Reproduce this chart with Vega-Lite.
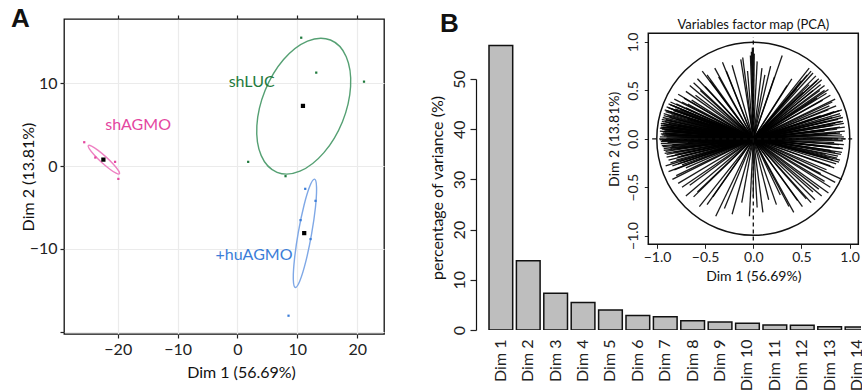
{
 "$schema": "https://vega.github.io/schema/vega-lite/v6.json",
 "padding": {"left": 10, "top": 5, "right": 0, "bottom": 0},
 "background": "white",
 "config": {
  "font": "Lato",
  "view": {"stroke": null},
  "axis": {"labelFont": "Lato", "titleFont": "Lato", "labelColor": "#222", "titleColor": "#111", "titleFontWeight": "normal", "domainColor": "#111", "tickColor": "#222"},
  "concat": {"spacing": 44}
 },
 "datasets": {
  "ind": [
   {"g": "shAGMO", "d1": -25.6, "d2": 2.88}, {"g": "shAGMO", "d1": -23.75, "d2": 1.03}, {"g": "shAGMO", "d1": -20.45, "d2": 0.51}, {"g": "shAGMO", "d1": -19.9, "d2": -1.55},
   {"g": "shLUC", "d1": 10.65, "d2": 15.51}, {"g": "shLUC", "d1": 13.16, "d2": 11.29}, {"g": "shLUC", "d1": 21.14, "d2": 10.2}, {"g": "shLUC", "d1": 1.79, "d2": 0.51}, {"g": "shLUC", "d1": 8.03, "d2": -1.22},
   {"g": "+huAGMO", "d1": 11.32, "d2": -2.75}, {"g": "+huAGMO", "d1": 13.04, "d2": -4.2}, {"g": "+huAGMO", "d1": 10.54, "d2": -6.53}, {"g": "+huAGMO", "d1": 12.21, "d2": -8.82}, {"g": "+huAGMO", "d1": 8.53, "d2": -18.08}
  ],
  "cent": [
   {"g": "shAGMO", "d1": -22.4, "d2": 0.78}, {"g": "shLUC", "d1": 10.94, "d2": 7.27}, {"g": "+huAGMO", "d1": 11.15, "d2": -8.1}
  ],
  "lab": [
   {"g": "shAGMO", "label": "shAGMO", "d1": -16.6, "d2": 4.97}, {"g": "shLUC", "label": "shLUC", "d1": 2.37, "d2": 10.2}, {"g": "+huAGMO", "label": "+huAGMO", "d1": 2.76, "d2": -10.72}
  ],
  "ell": [
   {"g": "shLUC", "i": 0, "d1": 15.54, "d2": 15.23}, {"g": "shLUC", "i": 1, "d1": 18.17, "d2": 13.22}, {"g": "shLUC", "i": 2, "d1": 18.9, "d2": 9.61}, {"g": "shLUC", "i": 3, "d1": 17.54, "d2": 5.36}, {"g": "shLUC", "i": 4, "d1": 14.44, "d2": 1.62}, {"g": "shLUC", "i": 5, "d1": 10.44, "d2": -0.62}, {"g": "shLUC", "i": 6, "d1": 6.61, "d2": -0.75}, {"g": "shLUC", "i": 7, "d1": 3.97, "d2": 1.26}, {"g": "shLUC", "i": 8, "d1": 3.24, "d2": 4.88}, {"g": "shLUC", "i": 9, "d1": 4.61, "d2": 9.12}, {"g": "shLUC", "i": 10, "d1": 7.7, "d2": 12.87}, {"g": "shLUC", "i": 11, "d1": 11.7, "d2": 15.1},
   {"g": "+huAGMO", "i": 0, "d1": 12.88, "d2": -1.58}, {"g": "+huAGMO", "i": 1, "d1": 13.21, "d2": -2.53}, {"g": "+huAGMO", "i": 2, "d1": 13.03, "d2": -4.97}, {"g": "+huAGMO", "i": 3, "d1": 12.37, "d2": -8.26}, {"g": "+huAGMO", "i": 4, "d1": 11.42, "d2": -11.52}, {"g": "+huAGMO", "i": 5, "d1": 10.43, "d2": -13.86}, {"g": "+huAGMO", "i": 6, "d1": 9.67, "d2": -14.67}, {"g": "+huAGMO", "i": 7, "d1": 9.33, "d2": -13.72}, {"g": "+huAGMO", "i": 8, "d1": 9.52, "d2": -11.27}, {"g": "+huAGMO", "i": 9, "d1": 10.17, "d2": -7.98}, {"g": "+huAGMO", "i": 10, "d1": 11.12, "d2": -4.73}, {"g": "+huAGMO", "i": 11, "d1": 12.11, "d2": -2.39},
   {"g": "shAGMO", "i": 0, "d1": -19.73, "d2": -0.94}, {"g": "shAGMO", "i": 1, "d1": -20.28, "d2": -0.86}, {"g": "shAGMO", "i": 2, "d1": -21.37, "d2": -0.35}, {"g": "shAGMO", "i": 3, "d1": -22.72, "d2": 0.46}, {"g": "shAGMO", "i": 4, "d1": -23.96, "d2": 1.36}, {"g": "shAGMO", "i": 5, "d1": -24.77, "d2": 2.1}, {"g": "shAGMO", "i": 6, "d1": -24.92, "d2": 2.48}, {"g": "shAGMO", "i": 7, "d1": -24.37, "d2": 2.41}, {"g": "shAGMO", "i": 8, "d1": -23.28, "d2": 1.9}, {"g": "shAGMO", "i": 9, "d1": -21.93, "d2": 1.08}, {"g": "shAGMO", "i": 10, "d1": -20.69, "d2": 0.19}, {"g": "shAGMO", "i": 11, "d1": -19.88, "d2": -0.55}
  ],
  "bars": [
   {"dim": "Dim 1", "pct": 56.69}, {"dim": "Dim 2", "pct": 13.81}, {"dim": "Dim 3", "pct": 7.3}, {"dim": "Dim 4", "pct": 5.5}, {"dim": "Dim 5", "pct": 4.0}, {"dim": "Dim 6", "pct": 2.9}, {"dim": "Dim 7", "pct": 2.65}, {"dim": "Dim 8", "pct": 1.85}, {"dim": "Dim 9", "pct": 1.6}, {"dim": "Dim 10", "pct": 1.33}, {"dim": "Dim 11", "pct": 1.0}, {"dim": "Dim 12", "pct": 0.93}, {"dim": "Dim 13", "pct": 0.66}, {"dim": "Dim 14", "pct": 0.6}
  ],
  "vars": [
   {"d1": -0.96, "d2": 0.12}, {"d1": -0.95, "d2": 0.18}, {"d1": -0.94, "d2": 0.22}, {"d1": -0.93, "d2": 0.26}, {"d1": -0.92, "d2": 0.3}, {"d1": -0.9, "d2": 0.33}, {"d1": -0.88, "d2": 0.36}, {"d1": -0.86, "d2": 0.38}, {"d1": -0.97, "d2": 0.08}, {"d1": -0.96, "d2": 0.05},
   {"d1": -0.97, "d2": 0.02}, {"d1": -0.95, "d2": -0.02}, {"d1": -0.96, "d2": -0.05}, {"d1": -0.94, "d2": -0.08}, {"d1": -0.93, "d2": -0.12}, {"d1": -0.92, "d2": -0.15}, {"d1": -0.9, "d2": -0.19}, {"d1": -0.88, "d2": -0.22}, {"d1": -0.86, "d2": -0.25}, {"d1": -0.84, "d2": -0.28},
   {"d1": -0.82, "d2": -0.32}, {"d1": -0.93, "d2": 0.14}, {"d1": -0.91, "d2": 0.1}, {"d1": -0.92, "d2": 0.06}, {"d1": -0.9, "d2": 0.02}, {"d1": -0.89, "d2": -0.04}, {"d1": -0.91, "d2": 0.2}, {"d1": -0.89, "d2": 0.24}, {"d1": -0.87, "d2": 0.28}, {"d1": -0.85, "d2": 0.31},
   {"d1": -0.88, "d2": 0.16}, {"d1": -0.86, "d2": 0.12}, {"d1": -0.85, "d2": 0.08}, {"d1": -0.87, "d2": 0.04}, {"d1": -0.84, "d2": -0.06}, {"d1": -0.86, "d2": -0.1}, {"d1": -0.83, "d2": -0.14}, {"d1": -0.85, "d2": -0.18}, {"d1": -0.8, "d2": -0.22}, {"d1": -0.78, "d2": -0.26},
   {"d1": -0.94, "d2": 0.16}, {"d1": -0.95, "d2": 0.1}, {"d1": -0.93, "d2": 0.03}, {"d1": -0.92, "d2": -0.01}, {"d1": -0.91, "d2": 0.28}, {"d1": -0.83, "d2": 0.34}, {"d1": -0.8, "d2": 0.36}, {"d1": -0.82, "d2": 0.26}, {"d1": -0.8, "d2": 0.2}, {"d1": -0.78, "d2": 0.14},
   {"d1": -0.76, "d2": 0.3}, {"d1": -0.74, "d2": 0.38}, {"d1": -0.77, "d2": -0.1}, {"d1": -0.75, "d2": -0.18}, {"d1": -0.72, "d2": -0.24}, {"d1": -0.7, "d2": -0.3}, {"d1": -0.96, "d2": 0.14}, {"d1": -0.94, "d2": 0.0}, {"d1": -0.9, "d2": 0.12}, {"d1": -0.88, "d2": 0.08},
   {"d1": -0.97, "d2": 0.11}, {"d1": -0.96, "d2": 0.16}, {"d1": -0.95, "d2": 0.2}, {"d1": -0.93, "d2": 0.24}, {"d1": -0.97, "d2": -0.01}, {"d1": -0.96, "d2": -0.03}, {"d1": -0.95, "d2": -0.07}, {"d1": -0.93, "d2": -0.1}, {"d1": -0.91, "d2": -0.13}, {"d1": -0.9, "d2": -0.16},
   {"d1": -0.94, "d2": 0.06}, {"d1": -0.92, "d2": 0.09}, {"d1": -0.9, "d2": 0.15}, {"d1": -0.89, "d2": 0.19}, {"d1": -0.87, "d2": 0.22}, {"d1": -0.85, "d2": 0.25}, {"d1": -0.83, "d2": 0.29}, {"d1": -0.81, "d2": 0.31}, {"d1": -0.95, "d2": 0.04}, {"d1": -0.93, "d2": 0.08},
   {"d1": -0.91, "d2": 0.04}, {"d1": -0.89, "d2": 0.0}, {"d1": -0.87, "d2": -0.03}, {"d1": -0.85, "d2": -0.08}, {"d1": -0.83, "d2": -0.11}, {"d1": -0.81, "d2": -0.16}, {"d1": -0.79, "d2": -0.19}, {"d1": -0.76, "d2": -0.23}, {"d1": -0.74, "d2": -0.27}, {"d1": -0.72, "d2": 0.26},
   {"d1": -0.7, "d2": 0.32}, {"d1": -0.68, "d2": 0.2}, {"d1": -0.66, "d2": 0.12}, {"d1": -0.68, "d2": -0.04}, {"d1": -0.7, "d2": -0.14}, {"d1": -0.9, "d2": 0.29}, {"d1": -0.88, "d2": 0.32}, {"d1": -0.86, "d2": 0.35}, {"d1": -0.92, "d2": 0.18}, {"d1": -0.94, "d2": 0.12},
   {"d1": -0.82, "d2": 0.41}, {"d1": -0.78, "d2": 0.46}, {"d1": -0.7, "d2": 0.49}, {"d1": -0.66, "d2": 0.55}, {"d1": -0.62, "d2": 0.58}, {"d1": -0.53, "d2": 0.7}, {"d1": -0.48, "d2": 0.66}, {"d1": -0.45, "d2": 0.6}, {"d1": -0.4, "d2": 0.73}, {"d1": -0.32, "d2": 0.79},
   {"d1": -0.28, "d2": 0.7}, {"d1": -0.22, "d2": 0.76}, {"d1": -0.6, "d2": 0.45}, {"d1": -0.55, "d2": 0.5}, {"d1": -0.72, "d2": 0.42}, {"d1": -0.68, "d2": 0.36}, {"d1": -0.58, "d2": 0.62}, {"d1": -0.36, "d2": 0.64}, {"d1": -0.5, "d2": 0.54}, {"d1": -0.64, "d2": 0.4},
   {"d1": -0.01, "d2": 0.94}, {"d1": 0.0, "d2": 0.92}, {"d1": -0.02, "d2": 0.9}, {"d1": 0.01, "d2": 0.88}, {"d1": -0.03, "d2": 0.86}, {"d1": -0.13, "d2": 0.82}, {"d1": -0.11, "d2": 0.84}, {"d1": 0.09, "d2": 0.73}, {"d1": 0.18, "d2": 0.75}, {"d1": 0.3, "d2": 0.86},
   {"d1": 0.12, "d2": 0.66}, {"d1": -0.06, "d2": 0.7}, {"d1": 0.04, "d2": 0.8}, {"d1": 0.22, "d2": 0.64},
   {"d1": 0.58, "d2": 0.73}, {"d1": 0.6, "d2": 0.7}, {"d1": 0.62, "d2": 0.68}, {"d1": 0.56, "d2": 0.66}, {"d1": 0.65, "d2": 0.65}, {"d1": 0.68, "d2": 0.62}, {"d1": 0.71, "d2": 0.61}, {"d1": 0.7, "d2": 0.56}, {"d1": 0.74, "d2": 0.55}, {"d1": 0.78, "d2": 0.51},
   {"d1": 0.76, "d2": 0.47}, {"d1": 0.8, "d2": 0.45}, {"d1": 0.85, "d2": 0.41}, {"d1": 0.82, "d2": 0.38}, {"d1": 0.5, "d2": 0.6}, {"d1": 0.45, "d2": 0.52}, {"d1": 0.52, "d2": 0.48}, {"d1": 0.62, "d2": 0.5}, {"d1": 0.4, "d2": 0.62}, {"d1": 0.35, "d2": 0.55},
   {"d1": 0.66, "d2": 0.42}, {"d1": 0.72, "d2": 0.4}, {"d1": 0.66, "d2": 0.6}, {"d1": 0.74, "d2": 0.5}, {"d1": 0.58, "d2": 0.56}, {"d1": 0.69, "d2": 0.5},
   {"d1": 0.92, "d2": 0.3}, {"d1": 0.9, "d2": 0.26}, {"d1": 0.93, "d2": 0.22}, {"d1": 0.88, "d2": 0.2}, {"d1": 0.94, "d2": 0.16}, {"d1": 0.9, "d2": 0.12}, {"d1": 0.95, "d2": 0.08}, {"d1": 0.92, "d2": 0.04}, {"d1": 0.96, "d2": 0.0}, {"d1": 0.93, "d2": -0.02},
   {"d1": 0.94, "d2": -0.06}, {"d1": 0.9, "d2": -0.1}, {"d1": 0.92, "d2": -0.14}, {"d1": 0.88, "d2": -0.18}, {"d1": 0.9, "d2": -0.22}, {"d1": 0.86, "d2": -0.26}, {"d1": 0.84, "d2": -0.3}, {"d1": 0.86, "d2": 0.34}, {"d1": 0.84, "d2": 0.28}, {"d1": 0.82, "d2": 0.22},
   {"d1": 0.85, "d2": 0.16}, {"d1": 0.8, "d2": 0.1}, {"d1": 0.86, "d2": 0.06}, {"d1": 0.82, "d2": 0.0}, {"d1": 0.84, "d2": -0.04}, {"d1": 0.8, "d2": -0.12}, {"d1": 0.78, "d2": -0.2}, {"d1": 0.76, "d2": 0.18}, {"d1": 0.74, "d2": 0.08}, {"d1": 0.78, "d2": 0.3},
   {"d1": 0.72, "d2": -0.08}, {"d1": 0.75, "d2": -0.16}, {"d1": 0.88, "d2": 0.0}, {"d1": 0.91, "d2": 0.18}, {"d1": 0.89, "d2": -0.06}, {"d1": 0.7, "d2": 0.24},
   {"d1": 0.95, "d2": 0.12}, {"d1": 0.93, "d2": 0.18}, {"d1": 0.91, "d2": 0.24}, {"d1": 0.89, "d2": 0.29}, {"d1": 0.94, "d2": 0.02}, {"d1": 0.93, "d2": -0.1}, {"d1": 0.91, "d2": -0.16}, {"d1": 0.89, "d2": -0.24}, {"d1": 0.87, "d2": 0.1}, {"d1": 0.83, "d2": 0.14},
   {"d1": 0.81, "d2": 0.26}, {"d1": 0.79, "d2": 0.34}, {"d1": 0.77, "d2": 0.04}, {"d1": 0.81, "d2": -0.08}, {"d1": 0.85, "d2": -0.14}, {"d1": 0.83, "d2": -0.22}, {"d1": 0.8, "d2": -0.28}, {"d1": 0.76, "d2": -0.32}, {"d1": 0.87, "d2": -0.2}, {"d1": 0.9, "d2": 0.06},
   {"d1": 0.92, "d2": -0.42}, {"d1": 0.85, "d2": -0.45}, {"d1": 0.8, "d2": -0.5}, {"d1": 0.78, "d2": -0.56}, {"d1": 0.71, "d2": -0.59}, {"d1": 0.64, "d2": -0.63}, {"d1": 0.6, "d2": -0.66}, {"d1": 0.51, "d2": -0.7}, {"d1": 0.55, "d2": -0.62}, {"d1": 0.68, "d2": -0.52},
   {"d1": 0.74, "d2": -0.44}, {"d1": 0.46, "d2": -0.64}, {"d1": 0.37, "d2": -0.7}, {"d1": 0.42, "d2": -0.76}, {"d1": 0.62, "d2": -0.55}, {"d1": 0.7, "d2": -0.36},
   {"d1": 0.16, "d2": -0.63}, {"d1": 0.04, "d2": -0.71}, {"d1": -0.04, "d2": -0.8}, {"d1": 0.1, "d2": -0.76}, {"d1": 0.24, "d2": -0.68}, {"d1": 0.28, "d2": -0.58}, {"d1": -0.12, "d2": -0.66}, {"d1": 0.0, "d2": -0.6},
   {"d1": -0.91, "d2": -0.28}, {"d1": -0.88, "d2": -0.34}, {"d1": -0.84, "d2": -0.42}, {"d1": -0.78, "d2": -0.46}, {"d1": -0.74, "d2": -0.5}, {"d1": -0.7, "d2": -0.59}, {"d1": -0.62, "d2": -0.6}, {"d1": -0.56, "d2": -0.7}, {"d1": -0.48, "d2": -0.68}, {"d1": -0.39, "d2": -0.8},
   {"d1": -0.3, "d2": -0.72}, {"d1": -0.22, "d2": -0.78}, {"d1": -0.66, "d2": -0.48}, {"d1": -0.8, "d2": -0.38}, {"d1": -0.58, "d2": -0.55}, {"d1": -0.42, "d2": -0.6}
  ]
 },
 "hconcat": [
  {
   "width": 320,
   "height": 315,
   "title": {"text": "A", "anchor": "start", "frame": "group", "offset": 0, "dx": -53, "dy": 39, "baseline": "alphabetic", "fontSize": 26, "fontWeight": "bold", "font": "Liberation Sans", "color": "#111"},
   "view": {"stroke": "#111", "strokeWidth": 1.3},
   "layer": [
    {
     "encoding": {
      "x": {"field": "d1", "type": "quantitative", "scale": {"domain": [-28.98, 24.48], "nice": false, "zero": false},
            "axis": {"title": "Dim 1 (56.69%)", "values": [-20, -10, 0, 10, 20], "grid": true, "gridColor": "#EBEBEB", "gridWidth": 1.2, "domain": false, "tickSize": 4, "tickWidth": 1.2, "labelFontSize": 16, "titleFontSize": 16, "labelPadding": 3, "titleX": 177, "titleY": 30}},
      "y": {"field": "d2", "type": "quantitative", "scale": {"domain": [-20.29, 17.77], "nice": false, "zero": false},
            "axis": {"title": "Dim 2 (13.81%)", "values": [-20, -10, 0, 10], "labelExpr": "datum.value == -20 ? '' : datum.label", "grid": true, "gridColor": "#EBEBEB", "gridWidth": 1.2, "domain": false, "tickSize": 4, "tickWidth": 1.2, "labelFontSize": 16, "titleFontSize": 16, "labelPadding": 3, "titleX": -28}}
     },
     "layer": [
      {"data": {"name": "ell"}, "mark": {"type": "line", "interpolate": "cardinal-closed", "strokeWidth": 1.4},
       "encoding": {"stroke": {"field": "g", "type": "nominal", "scale": {"domain": ["shAGMO", "shLUC", "+huAGMO"], "range": ["#EE82C3", "#55A073", "#7FA8E6"]}, "legend": null}, "order": {"field": "i", "type": "quantitative"}}},
      {"data": {"name": "ind"}, "mark": {"type": "point", "shape": "square", "filled": true, "size": 5, "opacity": 1},
       "encoding": {"color": {"field": "g", "type": "nominal", "scale": {"domain": ["shAGMO", "shLUC", "+huAGMO"], "range": ["#E4469F", "#1F7A3D", "#3B7DD8"]}, "legend": null}}},
      {"data": {"name": "cent"}, "mark": {"type": "square", "size": 18, "color": "#000", "opacity": 1}},
      {"data": {"name": "lab"}, "mark": {"type": "text", "fontSize": 16, "font": "Lato"},
       "encoding": {"text": {"field": "label"}, "color": {"field": "g", "type": "nominal", "scale": {"domain": ["shAGMO", "shLUC", "+huAGMO"], "range": ["#E4469F", "#1F7A3D", "#3B7DD8"]}, "legend": null}}}
     ]
    },
    {
     "data": {"name": "cent"},
     "mark": {"type": "point", "opacity": 0},
     "encoding": {
      "x": {"field": "d1", "type": "quantitative", "scale": {"domain": [-28.98, 24.48], "nice": false, "zero": false},
            "axis": {"orient": "top", "values": [-20, -10, 0, 10, 20], "labels": false, "ticks": true, "tickSize": 4, "tickWidth": 1.2, "domain": false, "grid": false, "title": null}}
     }
    }
   ],
   "resolve": {"scale": {"x": "independent"}, "axis": {"x": "independent"}}
  },
  {
   "width": 385,
   "height": 311,
   "title": {"text": "B", "anchor": "start", "frame": "group", "offset": 0, "dx": -36, "dy": 39, "baseline": "alphabetic", "fontSize": 26, "fontWeight": "bold", "font": "Liberation Sans", "color": "#111"},
   "layer": [
    {
     "data": {"name": "bars"},
     "mark": {"type": "bar", "fill": "#BEBEBE", "stroke": "#111", "strokeWidth": 1.5, "clip": true},
     "encoding": {
      "x": {"field": "dim", "type": "nominal", "sort": null, "scale": {"paddingInner": 0.135, "paddingOuter": 0, "range": [13, 392.9]},
            "axis": {"title": null, "domain": false, "ticks": false, "labelAngle": -90, "labelFontSize": 16, "labelPadding": 9}},
      "y": {"field": "pct", "type": "quantitative", "scale": {"domain": [0, 50], "range": [311, 60], "nice": false},
            "axis": {"title": "percentage of variance (%)", "values": [0, 10, 20, 30, 40, 50], "labelAngle": -90, "tickSize": 6, "tickWidth": 1.2, "labelPadding": 3, "labelFontSize": 16, "titleFontSize": 16, "titleX": -31, "titleY": 168.5, "grid": false, "domainWidth": 1.2}}
     }
    },
    {
     "layer": [
      {"data": {"name": "vars"}, "mark": {"type": "rule", "color": "#000", "strokeWidth": 1.3, "opacity": 0.9},
       "encoding": {
        "x": {"field": "d1", "type": "quantitative", "scale": {"domain": [-1.09, 1.09], "range": [172.3, 382.3], "nice": false, "zero": false},
              "axis": {"orient": "bottom", "offset": -85.7, "values": [-1, -0.5, 0, 0.5, 1], "format": ".1f", "domain": false, "grid": false, "tickSize": 4, "labelPadding": 2, "labelFontSize": 14, "title": "Dim 1 (56.69%)", "titleFontSize": 14, "titleY": 24.7}},
        "y": {"field": "d2", "type": "quantitative", "scale": {"domain": [-1.09, 1.09], "range": [225.3, 14.3], "nice": false, "zero": false},
              "axis": {"orient": "left", "offset": -172.3, "values": [-1, -0.5, 0, 0.5, 1], "format": ".1f", "domain": false, "grid": false, "tickSize": 4, "labelPadding": 4, "labelAngle": -90, "labelFontSize": 14, "title": "Dim 2 (13.81%)", "titleFontSize": 14, "titleX": -27}},
        "x2": {"datum": 0},
        "y2": {"datum": 0}
       }},
      {"data": {"values": [{}]}, "mark": {"type": "point", "shape": "circle", "filled": false, "size": 37250, "stroke": "#111", "strokeWidth": 1.5, "opacity": 1},
       "encoding": {
        "x": {"datum": 0, "type": "quantitative", "scale": {"domain": [-1.09, 1.09], "range": [172.3, 382.3], "nice": false, "zero": false}},
        "y": {"datum": 0, "type": "quantitative", "scale": {"domain": [-1.09, 1.09], "range": [225.3, 14.3], "nice": false, "zero": false}}
       }},
      {"data": {"values": [{}]}, "mark": {"type": "rule", "strokeDash": [4, 3], "color": "#111", "strokeWidth": 1.3},
       "encoding": {
        "x": {"datum": -1.05, "type": "quantitative", "scale": {"domain": [-1.09, 1.09], "range": [172.3, 382.3], "nice": false, "zero": false}},
        "x2": {"datum": 1.05},
        "y": {"datum": 0, "type": "quantitative", "scale": {"domain": [-1.09, 1.09], "range": [225.3, 14.3], "nice": false, "zero": false}}
       }},
      {"data": {"values": [{}]}, "mark": {"type": "rule", "strokeDash": [4, 3], "color": "#111", "strokeWidth": 1.3},
       "encoding": {
        "x": {"datum": 0, "type": "quantitative", "scale": {"domain": [-1.09, 1.09], "range": [172.3, 382.3], "nice": false, "zero": false}},
        "y": {"datum": -1.05, "type": "quantitative", "scale": {"domain": [-1.09, 1.09], "range": [225.3, 14.3], "nice": false, "zero": false}},
        "y2": {"datum": 1.05}
       }},
      {"data": {"values": [{}]}, "mark": {"type": "rect", "fill": "transparent", "stroke": "#111", "strokeWidth": 1.5},
       "encoding": {
        "x": {"datum": -1.09, "type": "quantitative", "scale": {"domain": [-1.09, 1.09], "range": [172.3, 382.3], "nice": false, "zero": false}},
        "x2": {"datum": 1.09},
        "y": {"datum": -1.09, "type": "quantitative", "scale": {"domain": [-1.09, 1.09], "range": [225.3, 14.3], "nice": false, "zero": false}},
        "y2": {"datum": 1.09}
       }},
      {"data": {"values": [{}]}, "mark": {"type": "text", "text": "Variables factor map (PCA)", "fontSize": 13, "color": "#111", "baseline": "middle", "font": "Lato"},
       "encoding": {
        "x": {"datum": 0, "type": "quantitative", "scale": {"domain": [-1.09, 1.09], "range": [172.3, 382.3], "nice": false, "zero": false}},
        "y": {"datum": 1.175, "type": "quantitative", "scale": {"domain": [-1.09, 1.09], "range": [225.3, 14.3], "nice": false, "zero": false}}
       }}
     ]
    }
   ],
   "resolve": {"scale": {"x": "independent", "y": "independent"}, "axis": {"x": "independent", "y": "independent"}}
  }
 ]
}
